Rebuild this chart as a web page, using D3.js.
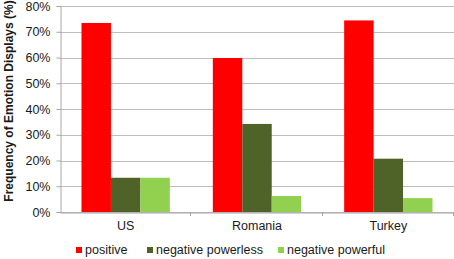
<!DOCTYPE html>
<html lang="en">
<head>
<meta charset="UTF-8">
<title>Frequency of Emotion Displays</title>
<script src="https://cdnjs.cloudflare.com/ajax/libs/d3/7.8.5/d3.min.js"></script>
<style>
  body { margin: 0; background: #fff; }
  svg { display: block; font-family: "Liberation Sans", Arial, sans-serif; }
</style>
</head>
<body>
<svg id="chart"></svg>
<script>
// Data
const countries = ["US", "Romania", "Turkey"];
const seriesNames = ["positive", "negative powerless", "negative powerful"];
const positive = [73.4, 59.8, 74.4];
const negPowerless = [13.3, 34.2, 20.7];
const negPowerful = [13.3, 6.2, 5.4];
const yTicks = [0, 10, 20, 30, 40, 50, 60, 70, 80];

const seriesValues = [positive, negPowerless, negPowerful];
const colors = ["#FF0000", "#4F6228", "#92D050"];

const width = 454, height = 259;
const margin = { left: 60, right: 0, top: 6, bottom: 47 };
const fontFam = "'Liberation Sans', Arial, sans-serif";

const svg = d3.select("#chart").attr("width", width).attr("height", height);

const x0 = d3.scaleBand()
    .domain(countries)
    .range([margin.left, width - margin.right])
    .padding(0);

const gap = 21.5;
const x1 = d3.scaleBand()
    .domain(seriesNames)
    .range([gap, x0.bandwidth() - gap])
    .padding(0);

const y = d3.scaleLinear()
    .domain([0, 80])
    .range([height - margin.bottom, margin.top]);

// Gridlines
svg.append("g")
    .selectAll("line")
    .data(yTicks)
    .enter().append("line")
    .attr("x1", margin.left)
    .attr("x2", width - margin.right)
    .attr("y1", d => Math.round(y(d)) + 0.5)
    .attr("y2", d => Math.round(y(d)) + 0.5)
    .attr("stroke", "#BDBDBD")
    .attr("stroke-width", 1);

// Y axis labels
const yAxis = svg.append("g")
    .attr("transform", `translate(${margin.left + 0.5},0)`)
    .call(d3.axisLeft(y).tickValues(yTicks).tickFormat(d => d + "%").tickSize(4).tickPadding(6));
yAxis.select(".domain").attr("stroke", "#A6A6A6");
yAxis.selectAll(".tick line").attr("stroke", "#A6A6A6");
yAxis.selectAll("text").attr("font-size", 12.5).attr("fill", "#1a1a1a")
    .attr("font-family", fontFam);

// Bars
const groups = svg.append("g")
    .selectAll("g")
    .data(countries)
    .enter().append("g")
    .attr("transform", d => `translate(${x0(d)},0)`);

groups.selectAll("rect")
    .data((d, i) => seriesNames.map((s, j) => ({ s, v: seriesValues[j][i], c: colors[j] })))
    .enter().append("rect")
    .attr("x", d => x1(d.s))
    .attr("width", x1.bandwidth())
    .attr("y", d => y(d.v))
    .attr("height", d => y(0) - y(d.v))
    .attr("fill", d => d.c);

// X axis
const xAxis = svg.append("g")
    .attr("transform", `translate(0,${Math.round(y(0)) + 0.5})`)
    .call(d3.axisBottom(x0).tickSize(0).tickPadding(9));
xAxis.select(".domain").attr("stroke", "#A6A6A6");
xAxis.selectAll("text").attr("font-size", 12.5).attr("fill", "#1a1a1a")
    .attr("font-family", fontFam);

// category separator ticks
svg.append("g")
    .selectAll("line")
    .data(countries.slice(1).concat(["end"]))
    .enter().append("line")
    .attr("x1", (d, i) => Math.round(margin.left + x0.step() * (i + 1)) - 0.5)
    .attr("x2", (d, i) => Math.round(margin.left + x0.step() * (i + 1)) - 0.5)
    .attr("y1", y(0))
    .attr("y2", y(0) + 4)
    .attr("stroke", "#A6A6A6");

// Y axis title
svg.append("text")
    .attr("transform", `translate(13,101) rotate(-90)`)
    .attr("text-anchor", "middle")
    .attr("font-size", 12)
    .attr("font-weight", "bold")
    .attr("fill", "#1a1a1a")
    .text("Frequency of Emotion Displays (%)");

// Legend
const legendX = [76, 147, 278];
const legend = svg.append("g")
    .selectAll("g")
    .data(seriesNames)
    .enter().append("g")
    .attr("transform", (d, i) => `translate(${legendX[i]},250)`);

legend.append("rect")
    .attr("x", 0).attr("y", -3)
    .attr("width", 6).attr("height", 6)
    .attr("fill", (d, i) => colors[i]);

legend.append("text")
    .attr("x", 9).attr("y", 0)
    .attr("dy", "0.35em")
    .attr("font-size", 12.5)
    .attr("fill", "#1a1a1a")
    .text(d => d);
</script>
</body>
</html>
